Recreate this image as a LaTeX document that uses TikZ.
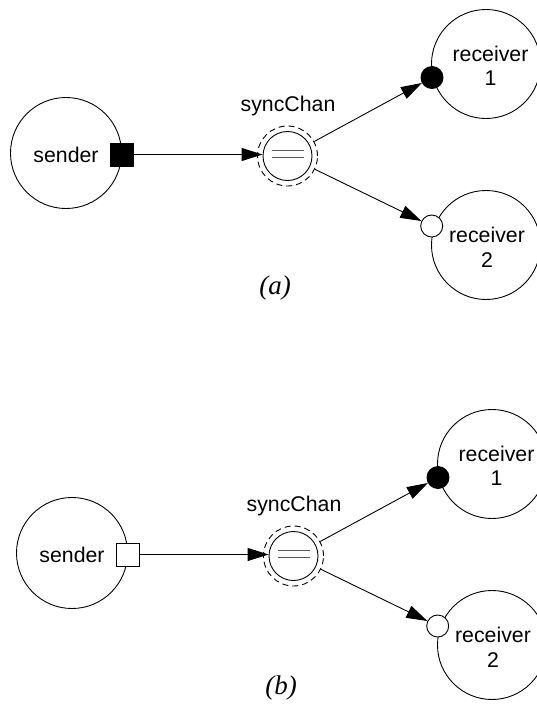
\documentclass[tikz,border=0pt]{standalone}
\usepackage{fontspec}
\setmainfont{Liberation Serif}
\setsansfont{Liberation Sans}
\usetikzlibrary{arrows.meta}
\newcommand\mypanel[3]{%
  \node[proc,minimum size=111pt] (s#1) at (66,153) {};
  \node[lbl] (st#1) at (66,162) {sender};
  \node[sqport,fill=#2] (q#1) at (122,154.5) {};
  \node[chanout] (co#1) at (287.5,156) {};
  \node[chan] (ci#1) at (287.5,156) {};
  \draw[eqline] (272,150.5) -- (304,150.5);
  \draw[eqline] (272,157.5) -- (304,157.5);
  \node[lbl] (cl#1) at (288,111) {syncChan};
  \node[proc,minimum size=109pt] (ra#1) at (486,64) {};
  \node[port,fill=black] (da#1) at (432,77.5) {};
  \node[lbl] (rat#1) at (490.5,61) {receiver};
  \node[lbl] (ran#1) at (490.5,85.5) {1};
  \node[proc,minimum size=109pt] (rb#1) at (486,245) {};
  \node[port,fill=white] (db#1) at (431.7,226) {};
  \node[lbl] (rbt#1) at (487,242) {receiver};
  \node[lbl] (rbn#1) at (487,267) {2};
  \draw[arr] (q#1.east) -- (q#1.east -| ci#1.west);
  \draw[arr] (co#1) -- (da#1);
  \draw[arr] (co#1) -- (db#1);
  \node[captext] (capt#1) at (275,294) {#3};
}
\begin{document}
\begin{tikzpicture}[x=1pt,y=-1pt,
  proc/.style={draw,circle,line width=0.9pt,inner sep=0pt},
  lbl/.style={font=\sffamily\fontsize{21.3}{24}\selectfont, inner sep=0pt, anchor=base},
  captext/.style={font=\itshape\fontsize{27}{30}\selectfont, inner sep=0pt, anchor=base},
  arr/.style={line width=0.9pt, -{Triangle[length=21pt,width=13pt]}},
  chan/.style={draw,circle,inner sep=0pt,minimum size=49pt,line width=0.9pt},
  chanout/.style={draw,circle,inner sep=0pt,minimum size=60pt,dash pattern=on 6pt off 4pt,line width=0.9pt},
  port/.style={draw,circle,inner sep=0pt,minimum size=22pt,line width=0.9pt},
  sqport/.style={draw,rectangle,inner sep=0pt,minimum size=23pt,line width=0.9pt},
  eqline/.style={line width=1.2pt,draw=black!65}
]
\useasboundingbox (0,0) rectangle (537,705);
\begin{scope}
  \mypanel{a}{black}{(a)}
\end{scope}
\begin{scope}[shift={(6,400)}]
  \mypanel{b}{white}{(b)}
\end{scope}
\end{tikzpicture}
\end{document}
